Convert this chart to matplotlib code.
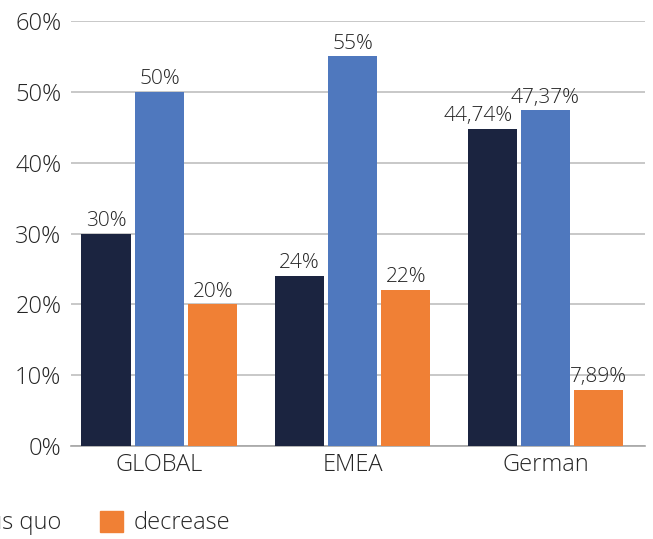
import numpy as np
from matplotlib import pyplot as plt
from matplotlib.patches import Patch

plt.rcParams['font.family'] = ['Open Sans', 'DejaVu Sans']
plt.rcParams['font.weight'] = 'light'

categories = ['GLOBAL', 'EMEA', 'German']
series_names = ['increase', 'status quo', 'decrease']
increase = [30, 24, 44.74]
status_quo = [50, 55, 47.37]
decrease = [20, 22, 7.89]
y_ticks = [0, 10, 20, 30, 40, 50, 60]

colors = ['#1B2440', '#4F78BE', '#F08035']
text_color = '#262626'


def fmt(v):
    if float(v).is_integer():
        return '%d%%' % v
    return ('%.2f%%' % v).replace('.', ',')


fig = plt.figure(figsize=(6.53, 5.39), dpi=100)
ax = fig.add_axes([0.1087, 0.1725, 0.8790, 0.7885])

x = np.arange(len(categories))
width = 0.254
step = 0.277
# nudge the wide German label so it clears its neighbour
label_shift = {(0, 2): -10}

for i, (vals, color) in enumerate(zip([increase, status_quo, decrease], colors)):
    pos = x + (i - 1) * step
    ax.bar(pos, vals, width=width, color=color, zorder=3)
    for j, (p, v) in enumerate(zip(pos, vals)):
        ax.annotate(fmt(v), (p, v), xytext=(label_shift.get((i, j), 0), 2),
                    textcoords='offset points', ha='center', va='bottom',
                    fontsize=15, color=text_color)

ax.set_xlim(-0.4585, 2.5155)
ax.set_ylim(0, 60)
ax.set_yticks(y_ticks)
ax.set_yticklabels([fmt(t) for t in y_ticks])
ax.set_xticks(x)
ax.set_xticklabels(categories)
ax.tick_params(axis='both', length=0, labelsize=17, labelcolor=text_color)
ax.tick_params(axis='y', pad=7)
ax.tick_params(axis='x', pad=5)
ax.grid(axis='y', color='#BFBFBF', linewidth=1.2)
ax.set_axisbelow(True)
for side in ['left', 'right', 'top']:
    ax.spines[side].set_visible(False)
ax.spines['bottom'].set_color('#A6A6A6')
ax.spines['bottom'].set_linewidth(1.2)

handles = [Patch(color=c) for c in colors]
fig.legend(handles, series_names, loc='lower right', bbox_to_anchor=(234 / 653, 0.0),
           ncol=3, frameon=False, fontsize=17, labelcolor=text_color,
           handlelength=1.0, handleheight=1.0, handletextpad=0.45,
           columnspacing=1.6, borderpad=0.15, borderaxespad=0)

fig.savefig('out.png', dpi=100)
